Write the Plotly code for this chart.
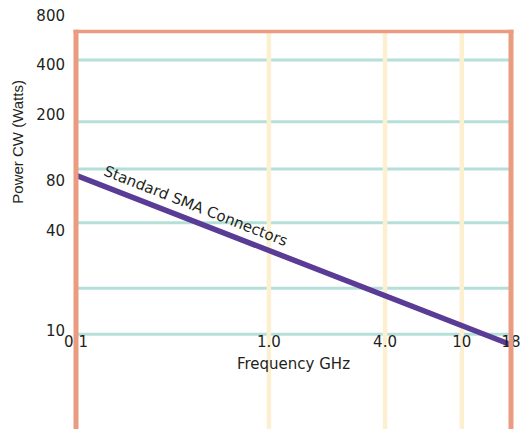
import math
import plotly.graph_objects as go

# ---- data ----
freq_ghz = [0.1, 18]            # line end points (GHz)
power_w = [86.5, 8.2]           # CW power (Watts)
series_label = "Standard SMA Connectors"

x_tick_vals = [0.1, 1, 4, 10, 18]
x_tick_text = ["0.1", "1.0", "4.0", "10", "18"]
y_tick_vals = [10, 40, 80, 200, 400, 800]
y_tick_text = ["10", "40", "80", "200", "400", "800"]

h_grid_levels = [430, 182, 94.5, 44.8, 18, 9.5]   # teal horizontal lines (W)
v_grid_levels = [1, 4, 10]                         # yellow vertical lines (GHz)

# ---- styling ----
W, H = 521, 429
L, R, T, B = 76, 10, 0, 0
plot_w = W - L - R
plot_h = H - T - B

SALMON = "#E99C80"
TEAL = "#B5E0DA"
YELLOW = "#FCF0D0"
PURPLE = "#5A3B96"
TEXT = "#231F20"

def py(px):  # pixel row -> paper y
    return (H - B - px) / plot_h

def pxx(px):  # pixel column -> paper x
    return (px - L) / plot_w

top_px = 31.5
top_paper = py(top_px)

fig = go.Figure()
fig.add_trace(go.Scatter(
    x=freq_ghz, y=power_w, mode="lines",
    line=dict(color=PURPLE, width=5.5),
    showlegend=False, hoverinfo="skip"))

shapes = []
for v in h_grid_levels:
    shapes.append(dict(type="line", xref="paper", yref="y", x0=0, x1=1,
                       y0=v, y1=v, line=dict(color=TEAL, width=3), layer="below"))
for v in v_grid_levels:
    shapes.append(dict(type="line", xref="x", yref="paper", x0=v, x1=v,
                       y0=0, y1=top_paper, line=dict(color=YELLOW, width=4.5), layer="below"))
# salmon frame (left, right, top)
ext = py(top_px - 1.75)
shapes.append(dict(type="line", xref="paper", yref="paper", x0=0, x1=0, y0=0, y1=ext,
                   line=dict(color=SALMON, width=5), layer="above"))
shapes.append(dict(type="line", xref="paper", yref="paper", x0=1, x1=1, y0=0, y1=ext,
                   line=dict(color=SALMON, width=5), layer="above"))
shapes.append(dict(type="line", xref="paper", yref="paper", x0=pxx(L - 2.5), x1=pxx(W - R + 2.5),
                   y0=top_paper, y1=top_paper,
                   line=dict(color=SALMON, width=3.5), layer="above"))

annotations = [
    dict(text="Power CW (Watts)", xref="paper", yref="paper",
         x=pxx(18), y=py(141.7), textangle=-90, showarrow=False,
         xanchor="center", yanchor="middle",
         font=dict(family="Liberation Sans", size=15, color=TEXT)),
    dict(text=series_label, xref="paper", yref="paper",
         x=pxx(195.5), y=py(205.5), textangle=21.4, showarrow=False,
         xanchor="center", yanchor="middle",
         font=dict(family="DejaVu Sans", size=15, color=TEXT)),
]

fig.update_layout(
    width=W, height=H,
    margin=dict(l=L, r=R, t=T, b=B, pad=0, autoexpand=False),
    paper_bgcolor="white", plot_bgcolor="white",
    shapes=shapes, annotations=annotations,
    xaxis=dict(
        type="log", range=[math.log10(0.1), math.log10(18)],
        anchor="free", position=py(334.3), automargin=False,
        showgrid=False, zeroline=False, showline=False, ticks="",
        tickvals=x_tick_vals, ticktext=x_tick_text,
        tickfont=dict(family="DejaVu Sans", size=15, color=TEXT),
        ticklabeloverflow="allow", ticklabelstandoff=-3,
        title=dict(text="Frequency GHz", standoff=8,
                   font=dict(family="DejaVu Sans", size=15, color=TEXT)),
    ),
    yaxis=dict(
        type="log", range=[0.4052, 2.9958], automargin=False,
        showgrid=False, zeroline=False, showline=False, ticks="",
        tickvals=y_tick_vals, ticktext=y_tick_text,
        tickfont=dict(family="DejaVu Sans", size=15, color=TEXT),
        ticklabelstandoff=10,
    ),
)

fig.write_html("out.html", config={"displayModeBar": False},
               post_script="document.body.style.margin='0px';")
